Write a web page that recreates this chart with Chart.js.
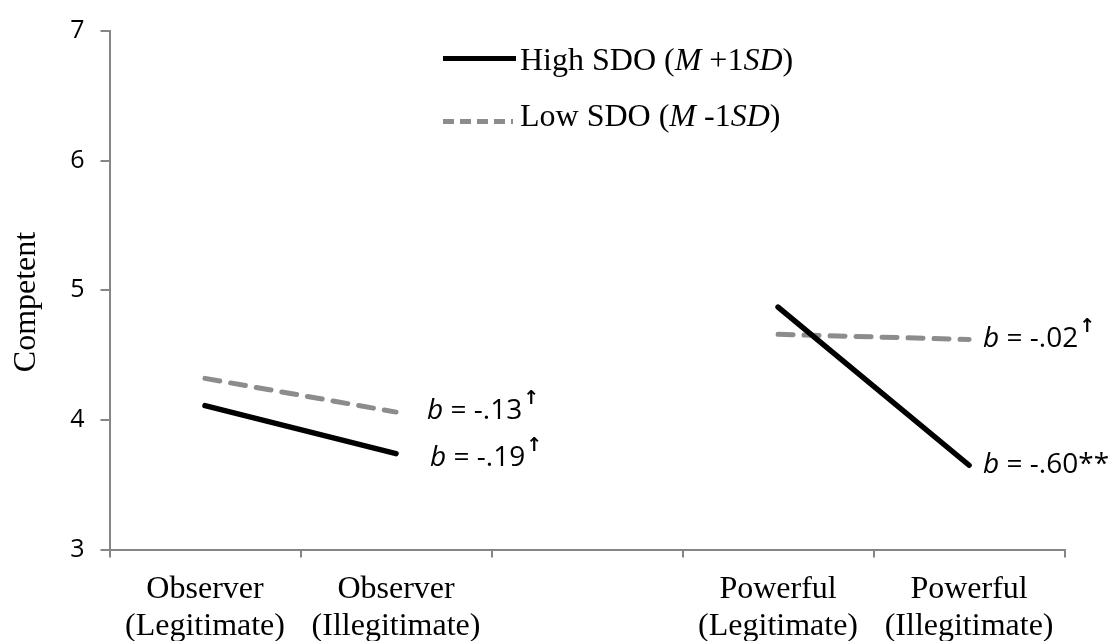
<!DOCTYPE html>
<html>
<head>
<meta charset="utf-8">
<script src="https://cdn.jsdelivr.net/npm/chart.js@4/dist/chart.umd.min.js"></script>
<style>
  html, body { margin: 0; padding: 0; background: #ffffff; }
  #wrap { width: 1115px; height: 641px; }
</style>
</head>
<body>
<div id="wrap"><canvas id="chart" width="1115" height="641"></canvas></div>
<script>
// Conditions on the x axis (the empty slot separates the two role groups)
const categories = [
  ["Observer", "(Legitimate)"],
  ["Observer", "(Illegitimate)"],
  "",
  ["Powerful", "(Legitimate)"],
  ["Powerful", "(Illegitimate)"]
];

// Simple-slope means for competence ratings
const highSDO = [4.11, 3.74, null, 4.87, 3.65];
const lowSDO  = [4.32, 4.06, null, 4.66, 4.62];

// Y axis range and tick step
const yMin = 3;
const yMax = 7;
const yStep = 1;

// Slope annotations: which series / category end they sit next to
const slopeSeries = ["low", "high", "low", "high"];
const slopeIndex  = [1, 1, 4, 4];
const slopeText   = ["= -.13", "= -.19", "= -.02", "= -.60"];
const slopeMark   = ["\u2191", "\u2191", "\u2191", "**"];

const AXIS_GREY = "#868686";
const SERIF = "'Liberation Serif', 'Times New Roman', serif";
const SANS = "'Open Sans', 'Noto Sans', sans-serif";

// Placement of each slope label relative to the end of its line
const slopeDx = [31, 34, 14, 14];
const slopeDy = [-1, 4, 0, 0];

function drawRich(ctx, x, y, parts, size) {
  let cx = x;
  for (const [txt, italic] of parts) {
    ctx.font = (italic ? "italic " : "") + size + "px " + SERIF;
    ctx.fillText(txt, cx, y);
    cx += ctx.measureText(txt).width;
  }
}

const overlay = {
  id: "overlay",
  afterDraw(chart) {
    const ctx = chart.ctx;
    const xs = chart.scales.x;
    const ys = chart.scales.y;
    ctx.save();

    // Legend
    ctx.lineCap = "butt";
    ctx.strokeStyle = "#000000";
    ctx.lineWidth = 5;
    ctx.setLineDash([]);
    ctx.beginPath(); ctx.moveTo(443, 58.5); ctx.lineTo(516, 58.5); ctx.stroke();
    ctx.strokeStyle = "#8c8c8c";
    ctx.setLineDash([11, 6]);
    ctx.beginPath(); ctx.moveTo(443, 121.5); ctx.lineTo(513, 121.5); ctx.stroke();
    ctx.setLineDash([]);

    ctx.fillStyle = "#000000";
    ctx.textAlign = "left";
    ctx.textBaseline = "alphabetic";
    drawRich(ctx, 520, 70, [["High SDO (", false], ["M", true], [" +1", false], ["SD", true], [")", false]], 32);
    drawRich(ctx, 520, 126, [["Low SDO (", false], ["M", true], [" -1", false], ["SD", true], [")", false]], 32);

    // Y axis title
    ctx.save();
    ctx.translate(35, 302);
    ctx.rotate(-Math.PI / 2);
    ctx.font = "32px " + SERIF;
    ctx.textAlign = "center";
    ctx.textBaseline = "alphabetic";
    ctx.fillText("Competent", 0, 0);
    ctx.restore();

    // Slope labels
    ctx.textBaseline = "middle";
    ctx.textAlign = "left";
    for (let i = 0; i < slopeText.length; i++) {
      const data = slopeSeries[i] === "high" ? highSDO : lowSDO;
      const px = xs.getPixelForValue(slopeIndex[i]) + slopeDx[i];
      const py = ys.getPixelForValue(data[slopeIndex[i]]) + slopeDy[i];
      ctx.font = "italic 28px " + SANS;
      ctx.fillText("b", px, py);
      let cx = px + ctx.measureText("b ").width;
      ctx.font = "28px " + SANS;
      ctx.fillText(slopeText[i], cx, py);
      cx += ctx.measureText(slopeText[i]).width;
      if (slopeMark[i] === "**") {
        ctx.fillText("**", cx, py);
      } else {
        ctx.font = "bold 19px 'DejaVu Sans', sans-serif";
        ctx.fillText(slopeMark[i], cx + 1, py - 12);
      }
    }
    ctx.restore();
  }
};

new Chart(document.getElementById("chart"), {
  type: "line",
  data: {
    labels: categories,
    datasets: [
      {
        label: "High SDO (M +1SD)",
        data: highSDO,
        borderColor: "#000000",
        borderWidth: 5.5,
        borderCapStyle: "round",
        pointRadius: 0,
        spanGaps: false,
        tension: 0
      },
      {
        label: "Low SDO (M -1SD)",
        data: lowSDO,
        borderColor: "#8c8c8c",
        borderWidth: 5,
        borderDash: [15, 11],
        borderCapStyle: "round",
        pointRadius: 0,
        spanGaps: false,
        tension: 0
      }
    ]
  },
  options: {
    responsive: false,
    animation: false,
    layout: { padding: { top: 23, right: 50.4, left: 0, bottom: 0 } },
    plugins: {
      legend: { display: false },
      tooltip: { enabled: false },
      title: { display: false }
    },
    scales: {
      x: {
        type: "category",
        offset: true,
        afterFit(s) { s.height = 91.5; },
        grid: {
          offset: true,
          drawOnChartArea: false,
          drawTicks: true,
          tickLength: 8,
          color: AXIS_GREY,
          lineWidth: 2
        },
        border: { display: true, color: AXIS_GREY, width: 2 },
        ticks: {
          color: "#000000",
          padding: 14,
          maxRotation: 0,
          autoSkip: false,
          font: { family: SERIF, size: 32, lineHeight: 1.15 }
        }
      },
      y: {
        min: yMin,
        max: yMax,
        afterFit(s) { s.width = 109.5; },
        grid: {
          drawOnChartArea: false,
          drawTicks: true,
          tickLength: 9,
          color: AXIS_GREY,
          lineWidth: 2
        },
        border: { display: true, color: AXIS_GREY, width: 2 },
        ticks: {
          stepSize: yStep,
          color: "#000000",
          padding: 16,
          font: { family: SANS, size: 25 }
        }
      }
    }
  },
  plugins: [overlay]
});
</script>
</body>
</html>
